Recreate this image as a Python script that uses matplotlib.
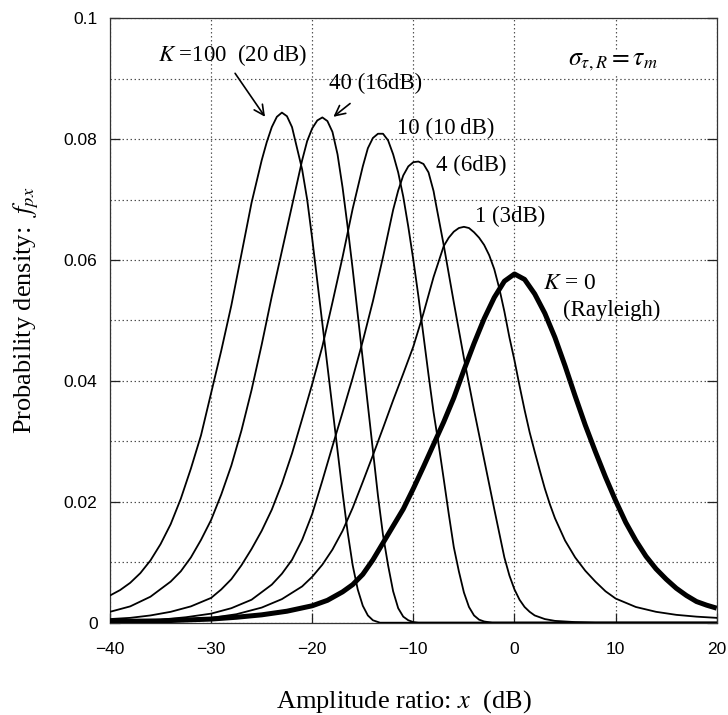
import matplotlib
matplotlib.use("Agg")
import matplotlib.pyplot as plt
from matplotlib.ticker import MultipleLocator

plt.rcParams['mathtext.fontset'] = 'stix'

# ---- data (x in dB, y = probability density) ----
k100_x = [-40, -39, -38, -37, -36, -35, -34, -33, -32, -31, -30, -29, -28, -27, -26, -25, -24.5,
          -24, -23.5, -23, -22.5, -22, -21.5, -21, -20.5, -20, -19.5, -19, -18.5, -18, -17.5, -17,
          -16.5, -16, -15.5, -15, -14.5, -14, -13.3, 20]
k100_y = [0.0045, 0.0054, 0.0066, 0.0082, 0.0103, 0.0130, 0.0163, 0.0205, 0.0255, 0.0310, 0.0380,
          0.0450, 0.0525, 0.0610, 0.0695, 0.0765, 0.0795, 0.0820, 0.0837, 0.0844, 0.0838, 0.0820,
          0.0785, 0.0750, 0.0700, 0.0635, 0.0565, 0.0495, 0.0425, 0.0355, 0.0285, 0.0215, 0.0150,
          0.0095, 0.0055, 0.0028, 0.0012, 0.0004, 0.0, 0.0]

k40_x = [-40, -38, -36, -34, -33, -32, -31, -30, -29, -28, -27, -26, -25, -24, -23, -22, -21,
         -20.5, -20, -19.5, -19, -18.5, -18, -17.5, -17, -16.5, -16, -15.5, -15, -14.5, -14, -13.5,
         -13, -12.5, -12, -11.5, -11, -10.5, -10, -9.5, 20]
k40_y = [0.0018, 0.0027, 0.0043, 0.0068, 0.0085, 0.0108, 0.0137, 0.0170, 0.0212, 0.0260, 0.0318,
         0.0385, 0.0460, 0.0540, 0.0615, 0.0690, 0.0765, 0.0797, 0.0818, 0.0831, 0.0836, 0.0830,
         0.0812, 0.0775, 0.0720, 0.0655, 0.0585, 0.0510, 0.0435, 0.0360, 0.0285, 0.0210, 0.0145,
         0.0095, 0.0052, 0.0024, 0.0010, 0.0004, 0.0001, 0.0, 0.0]

k10_x = [-40, -38, -36, -34, -32, -30, -29, -28, -27, -26, -25, -24, -23, -22, -21, -20, -19, -18,
         -17, -16, -15, -14.5, -14, -13.5, -13, -12.5, -12, -11.5, -11, -10.5, -10, -9.5, -9, -8.5,
         -8, -7.5, -7, -6.5, -6, -5.5, -5, -4.5, -4, -3.5, -3, -2.2, 20]
k10_y = [0.0006, 0.0008, 0.0012, 0.0018, 0.0027, 0.0041, 0.0055, 0.0072, 0.0095, 0.0122, 0.0152,
         0.0187, 0.0230, 0.0280, 0.0337, 0.0395, 0.0457, 0.0530, 0.0605, 0.0685, 0.0755, 0.0785,
         0.0802, 0.0809, 0.0809, 0.0798, 0.0775, 0.0745, 0.0705, 0.0655, 0.0600, 0.0540, 0.0475,
         0.0410, 0.0348, 0.0295, 0.0238, 0.0180, 0.0125, 0.0085, 0.0050, 0.0026, 0.0012, 0.0005,
         0.0002, 0.0, 0.0]

k4_x = [-40, -37.5, -35, -32.5, -30, -28, -26, -24, -23, -22, -21, -20, -19, -18, -17, -16, -15,
        -14, -13, -12, -11.5, -11, -10.5, -10, -9.5, -9, -8.5, -8, -7.85, -7, -6, -5, -4, -3, -2,
        -1, -0.5, 0, 0.5, 1, 1.5, 2, 3, 4, 6, 8, 20]
k4_y = [0.0002, 0.0003, 0.0005, 0.0009, 0.0015, 0.0024, 0.0038, 0.0063, 0.0081, 0.0104, 0.0137,
        0.0180, 0.0235, 0.0292, 0.0348, 0.0405, 0.0466, 0.0532, 0.0605, 0.0683, 0.0715, 0.0740,
        0.0755, 0.0762, 0.0763, 0.0759, 0.0745, 0.0714, 0.0700, 0.0625, 0.0530, 0.0438, 0.0352,
        0.0270, 0.0188, 0.0108, 0.0078, 0.0055, 0.0038, 0.0026, 0.0018, 0.0012, 0.0006, 0.0003,
        0.0001, 0.0, 0.0]

k1_x = [-40, -35, -30, -27.5, -25, -23, -21, -20, -19, -18, -17, -16, -15, -14, -13, -12, -11,
        -10, -9, -8, -7, -6.5, -6, -5.5, -5, -4.5, -4, -3.5, -3, -2.5, -2, -1.5, -1, -0.5, 0, 0.5,
        1, 1.5, 2, 2.5, 3, 3.5, 4, 5, 6, 7, 8, 9, 10, 12, 14, 16, 18, 20]
k1_y = [0.0001, 0.0003, 0.0008, 0.0014, 0.0025, 0.0039, 0.0060, 0.0076, 0.0096, 0.0121, 0.0152,
        0.0190, 0.0233, 0.0277, 0.0322, 0.0368, 0.0412, 0.0457, 0.0512, 0.0572, 0.0623, 0.0637,
        0.0647, 0.0653, 0.0655, 0.0653, 0.0646, 0.0637, 0.0625, 0.0608, 0.0585, 0.0553, 0.0515,
        0.0472, 0.0434, 0.0392, 0.0352, 0.0315, 0.0283, 0.0252, 0.0222, 0.0196, 0.0173, 0.0136,
        0.0108, 0.0086, 0.0068, 0.0052, 0.0040, 0.0026, 0.0018, 0.0013, 0.0010, 0.0008]

k0_x = [-40, -35, -30, -27.5, -25, -22.5, -20, -18.5, -17, -16, -15, -14, -13, -12, -11, -10, -9,
        -8, -7, -6, -5, -4, -3, -2, -1, 0, 1, 2, 3, 4, 5, 6, 7, 8, 9, 10, 11, 12, 13, 14, 15, 16,
        17, 18, 19, 20]
k0_y = [0.0002, 0.0003, 0.0006, 0.0009, 0.0013, 0.0019, 0.0028, 0.0037, 0.0051, 0.0063, 0.0080,
        0.0104, 0.0132, 0.0160, 0.0188, 0.0222, 0.0258, 0.0295, 0.0332, 0.0372, 0.0418, 0.0462,
        0.0503, 0.0538, 0.0565, 0.0577, 0.0568, 0.0544, 0.0512, 0.0472, 0.0425, 0.0375, 0.0327,
        0.0283, 0.0241, 0.0202, 0.0166, 0.0136, 0.0110, 0.0089, 0.0072, 0.0057, 0.0045, 0.0035,
        0.0029, 0.0024]

x_ticks = [-40, -30, -20, -10, 0, 10, 20]
y_ticks = [0, 0.02, 0.04, 0.06, 0.08, 0.1]
y_tick_labels = ["0", "0.02", "0.04", "0.06", "0.08", "0.1"]

fig = plt.figure(figsize=(7.28, 7.15), dpi=100)
ax = fig.add_axes([0.1511, 0.1291, 0.8334, 0.8453])

thin = dict(color='black', lw=1.3, solid_joinstyle='round')
for xs, ys in [(k100_x, k100_y), (k40_x, k40_y), (k10_x, k10_y), (k4_x, k4_y), (k1_x, k1_y)]:
    ax.plot(xs, ys, **thin, zorder=3)
ax.plot(k0_x, k0_y, color='black', lw=3.6, solid_joinstyle='round', solid_capstyle='butt', zorder=4)

ax.set_xlim(-40, 20)
ax.set_ylim(0, 0.1)
ax.set_xticks(x_ticks)
ax.set_xticklabels([("\u2212%d" % -v) if v < 0 else "%d" % v for v in x_ticks])
ax.set_yticks(y_ticks)
ax.set_yticklabels(y_tick_labels)
ax.yaxis.set_minor_locator(MultipleLocator(0.01))

grid_style = dict(color='#4d4d4d', linestyle=(0, (1.2, 2.2)), linewidth=0.85)
ax.grid(True, which='major', axis='both', **grid_style)
ax.grid(True, which='minor', axis='y', **grid_style)
ax.set_axisbelow(True)

ax.tick_params(which='major', direction='in', length=7, width=0.9, top=False, right=True,
               labelsize=12.5, pad=9, colors='#222222', labelcolor='black')
ax.tick_params(axis='x', pad=14)
ax.tick_params(which='minor', length=0)
for lab in ax.get_xticklabels() + ax.get_yticklabels():
    lab.set_family(['Liberation Sans', 'DejaVu Sans'])
for sp in ax.spines.values():
    sp.set_linewidth(0.9)
    sp.set_color('#333333')

serif = ['Liberation Serif', 'DejaVu Serif']
ax.set_xlabel("Amplitude ratio: $x$  (dB)", fontsize=19, family=serif)
ax.set_ylabel("Probability density:  $f_{px}$", fontsize=19, family=serif)
ax.xaxis.set_label_coords(0.4846, -0.108)
ax.yaxis.set_label_coords(-0.114, 0.517)

tfs = 16.4
ax.text(-35.25, 0.0939, "$K$ =100  (20\u2009dB)", fontsize=tfs, family=serif, ha='left', va='center')
ax.text(-18.33, 0.0892, "40 (16dB)", fontsize=tfs, family=serif, ha='left', va='center')
ax.text(-11.58, 0.0818, "10 (10\u2009dB)", fontsize=tfs, family=serif, ha='left', va='center')
ax.text(-7.78, 0.0756, "4 (6dB)", fontsize=tfs, family=serif, ha='left', va='center')
ax.text(-3.89, 0.0672, "1 (3dB)", fontsize=tfs, family=serif, ha='left', va='center')
ax.text(2.84, 0.0562, "$K$ = 0", fontsize=tfs + 0.5, family=serif, ha='left', va='center')
ax.text(4.82, 0.0517, "(Rayleigh)", fontsize=tfs, family=serif, ha='left', va='center')
ax.text(5.31, 0.0928, r"$\sigma_{\tau,R} = \tau_m$", fontsize=18.5, family=serif, ha='left', va='center',
        bbox=dict(facecolor='white', edgecolor='none', pad=1))

arrow = dict(arrowstyle='->', color='black', lw=1.2, mutation_scale=18, shrinkA=0, shrinkB=0)
ax.annotate("", xy=(-24.67, 0.0837), xytext=(-27.63, 0.0909), arrowprops=arrow)
ax.annotate("", xy=(-17.91, 0.0837), xytext=(-16.26, 0.0859), arrowprops=arrow)

fig.savefig("out.png", dpi=100)
